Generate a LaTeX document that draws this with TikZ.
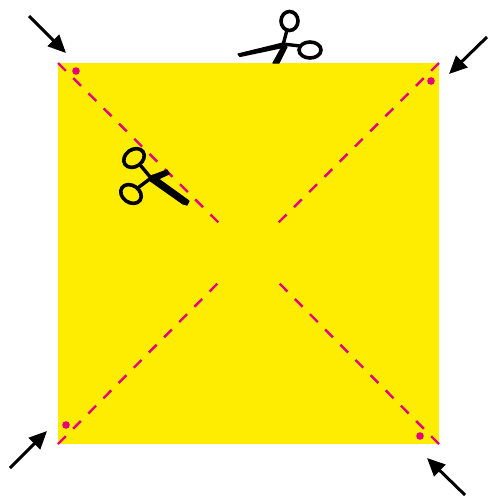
\documentclass[tikz,border=0pt]{standalone}
\usetikzlibrary{arrows.meta}
\definecolor{sqyellow}{RGB}{255,237,0}
\definecolor{cutpink}{RGB}{230,0,126}
\tikzset{
  cutline/.style={draw=cutpink,line width=2.4pt,dash pattern=on 11pt off 10.5pt},
  pointer/.style={draw=black,line width=3pt,-{Triangle[length=18pt,width=16pt]}},
  pinkdot/.style={fill=cutpink,circle,inner sep=0pt,minimum size=7.6pt},
  ring/.style={draw=black,line width=3.6pt,fill=none},
  handle/.style={draw=black,line width=3.4pt,line cap=round},
  blade/.style={fill=black,draw=black,line width=1.2pt,line join=round}
}
\begin{document}
\begin{tikzpicture}[x=1pt,y=-1pt]
\useasboundingbox (0,0) rectangle (490,496);
\fill[sqyellow] (58,63) rectangle (439,444);
% named corners, inner ends, arrow tails and tips
\coordinate (tl) at (58,63);
\coordinate (tr) at (439,63);
\coordinate (bl) at (58,444);
\coordinate (br) at (439,444);
\coordinate (itl) at (220,224);
\coordinate (itr) at (277,224);
\coordinate (ibl) at (220,281);
\coordinate (ibr) at (277,281);
\draw[cutline] (tl) -- (itl);
\draw[cutline] (tr) -- (itr);
\draw[cutline] (bl) -- (ibl);
\draw[cutline] (br) -- (ibr);
\node[pinkdot] (d1) at (76,71) {};
\node[pinkdot] (d2) at (431,81) {};
\node[pinkdot] (d3) at (66,425) {};
\node[pinkdot] (d4) at (420,436) {};
\coordinate (a1s) at (29,16);  \coordinate (a1e) at (66,53);
\coordinate (a2s) at (487,37); \coordinate (a2e) at (449,74);
\coordinate (a3s) at (10,468); \coordinate (a3e) at (47,431);
\coordinate (a4s) at (465,495);\coordinate (a4e) at (427,458);
\draw[pointer] (a1s) -- (a1e);
\draw[pointer] (a2s) -- (a2e);
\draw[pointer] (a3s) -- (a3e);
\draw[pointer] (a4s) -- (a4e);
% top scissors
\draw[ring] (289.5,21) ellipse [x radius=8.5,y radius=9.5];
\draw[ring] (310,50) ellipse [x radius=11,y radius=8];
\draw[handle] (287,30) -- (283,45);
\draw[handle] (283,44) -- (300,46);
\fill[blade] (238,54) -- (283,43) -- (285,47) -- (240,56.5) -- cycle;
\fill[blade] (283,45) -- (287,47) -- (279,63) -- (273,63) -- cycle;
% scissors on the paper
\draw[ring,rotate around={35:(134,158)}] (134,158) ellipse [x radius=11,y radius=8.5];
\draw[ring,rotate around={-35:(131,194)}] (131,194) ellipse [x radius=11,y radius=8.5];
\draw[handle] (141,166) -- (151,178);
\draw[handle] (139,187) -- (151,178);
\fill[blade] (149,180) -- (153,175) -- (189,201) -- (187,205) -- (183,204) -- cycle;
\fill[blade] (151,176) -- (167,170) -- (169,174) -- (154,181) -- cycle;
\end{tikzpicture}
\end{document}
